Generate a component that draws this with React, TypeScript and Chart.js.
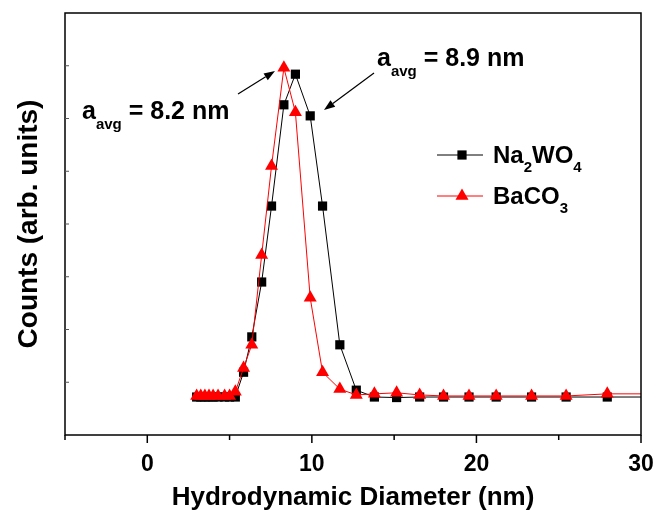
import React, { useEffect, useRef } from 'react';
import { Chart, registerables } from 'chart.js';

Chart.register(...registerables);

// Hydrodynamic diameter bins (nm)
const diameters = [3.0, 3.25, 3.5, 3.75, 4.0, 4.3, 4.7, 5.0, 5.35, 5.85, 6.35, 6.95, 7.55, 8.3, 9.0, 9.9, 10.65, 11.7, 12.7, 13.8, 15.15, 16.55, 18.0, 19.55, 21.2, 23.35, 25.45, 27.95, 30.8];
// Counts (arb. units)
const na2wo4Counts = [0.72, 0.72, 0.72, 0.72, 0.72, 0.72, 0.72, 0.72, 0.72, 1.19, 1.86, 2.9, 4.34, 6.26, 6.84, 6.05, 4.34, 1.71, 0.85, 0.72, 0.71, 0.72, 0.72, 0.72, 0.72, 0.72, 0.72, 0.72, 0.72];
const baco3Counts = [0.74, 0.74, 0.74, 0.74, 0.74, 0.74, 0.74, 0.74, 0.82, 1.27, 1.71, 3.41, 5.1, 6.96, 6.12, 2.6, 1.19, 0.87, 0.76, 0.78, 0.8, 0.76, 0.74, 0.74, 0.74, 0.74, 0.74, 0.78, 0.78];

const xTickValues = [0, 10, 20, 30];
const xMinorTickValues = [-5, 5, 15, 25];
const yTickValues = [1, 2, 3, 4, 5, 6, 7];

const FONT = '"Liberation Sans", Arial, sans-serif';

function drawSubText(ctx: CanvasRenderingContext2D, parts: { t: string; sub?: boolean }[], x: number, y: number, size: number, subSize: number, subDrop: number) {
  let cx = x;
  for (const p of parts) {
    ctx.font = `bold ${p.sub ? subSize : size}px ${FONT}`;
    ctx.fillText(p.t, cx, p.sub ? y + subDrop : y);
    cx += ctx.measureText(p.t).width;
  }
}

function arrow(ctx: CanvasRenderingContext2D, x1: number, y1: number, x2: number, y2: number) {
  const ang = Math.atan2(y2 - y1, x2 - x1);
  const L = 11, W = 4;
  ctx.strokeStyle = '#000';
  ctx.lineWidth = 1.2;
  ctx.beginPath();
  ctx.moveTo(x1, y1);
  ctx.lineTo(x2 - L * Math.cos(ang), y2 - L * Math.sin(ang));
  ctx.stroke();
  ctx.fillStyle = '#000';
  ctx.beginPath();
  ctx.moveTo(x2, y2);
  ctx.lineTo(x2 - L * Math.cos(ang) + W * Math.sin(ang), y2 - L * Math.sin(ang) - W * Math.cos(ang));
  ctx.lineTo(x2 - L * Math.cos(ang) - W * Math.sin(ang), y2 - L * Math.sin(ang) + W * Math.cos(ang));
  ctx.closePath();
  ctx.fill();
}

const decorPlugin = {
  id: 'decor',
  afterDraw(chart: any) {
    const ctx: CanvasRenderingContext2D = chart.ctx;
    const { left, right, top, bottom } = chart.chartArea;
    const xs = chart.scales.x;
    const ys = chart.scales.y;
    ctx.save();
    ctx.strokeStyle = '#000';
    ctx.lineWidth = 1.5;
    ctx.strokeRect(left, top, right - left, bottom - top);
    for (const v of xTickValues) {
      const px = xs.getPixelForValue(v);
      ctx.beginPath();
      ctx.moveTo(px, bottom);
      ctx.lineTo(px, bottom + 8);
      ctx.stroke();
    }
    for (const v of xMinorTickValues) {
      const px = xs.getPixelForValue(v);
      ctx.beginPath();
      ctx.moveTo(px, bottom);
      ctx.lineTo(px, bottom + 5);
      ctx.stroke();
    }
    ctx.lineWidth = 1;
    ctx.strokeStyle = '#555';
    for (const v of yTickValues) {
      const py = ys.getPixelForValue(v);
      ctx.beginPath();
      ctx.moveTo(left, py);
      ctx.lineTo(left + 4, py);
      ctx.stroke();
    }
    ctx.fillStyle = '#000';
    ctx.textBaseline = 'alphabetic';
    ctx.textAlign = 'left';
    drawSubText(ctx, [{ t: 'a' }, { t: 'avg', sub: true }, { t: ' = 8.2 nm' }], 82, 119, 25, 15, 10);
    drawSubText(ctx, [{ t: 'a' }, { t: 'avg', sub: true }, { t: ' = 8.9 nm' }], 377, 66, 25, 15, 10);
    arrow(ctx, 238, 94, 275, 71);
    arrow(ctx, 374, 73, 324, 110);
    ctx.strokeStyle = '#000';
    ctx.lineWidth = 1;
    ctx.beginPath();
    ctx.moveTo(437, 155);
    ctx.lineTo(483, 155);
    ctx.stroke();
    ctx.fillStyle = '#000';
    ctx.fillRect(462 - 4.6, 155 - 4.6, 9.2, 9.2);
    ctx.strokeStyle = '#ff0000';
    ctx.beginPath();
    ctx.moveTo(437, 196);
    ctx.lineTo(483, 196);
    ctx.stroke();
    ctx.fillStyle = '#ff0000';
    const r = 7.5;
    ctx.beginPath();
    ctx.moveTo(462, 196 - r);
    ctx.lineTo(462 + r * Math.sin(Math.PI / 3), 196 + r * 0.5);
    ctx.lineTo(462 - r * Math.sin(Math.PI / 3), 196 + r * 0.5);
    ctx.closePath();
    ctx.fill();
    ctx.fillStyle = '#000';
    drawSubText(ctx, [{ t: 'Na' }, { t: '2', sub: true }, { t: 'WO' }, { t: '4', sub: true }], 493, 163, 24, 15, 9);
    drawSubText(ctx, [{ t: 'BaCO' }, { t: '3', sub: true }], 493, 204, 24, 15, 9);
    ctx.restore();
  },
};

export default function App() {
  const ref = useRef<HTMLCanvasElement>(null);
  useEffect(() => {
    document.body.style.margin = '0';
    const canvas = ref.current!;
    const chart = new Chart(canvas, {
      type: 'scatter',
      data: {
        datasets: [
          {
            label: 'Na2WO4',
            data: diameters.map((d, i) => ({ x: d, y: na2wo4Counts[i] })),
            showLine: true,
            borderColor: '#000',
            borderWidth: 1,
            backgroundColor: '#000',
            pointStyle: 'rect',
            pointRadius: 6.5,
            pointBorderWidth: 0,
            order: 1,
          },
          {
            label: 'BaCO3',
            data: diameters.map((d, i) => ({ x: d, y: baco3Counts[i] })),
            showLine: true,
            borderColor: '#ff0000',
            borderWidth: 1,
            backgroundColor: '#ff0000',
            pointStyle: 'triangle',
            pointRadius: 7.5,
            pointBorderWidth: 0,
            order: 0,
          },
        ],
      },
      options: {
        responsive: false,
        animation: false,
        layout: { padding: { top: 13, right: 16, left: 0, bottom: 0 } },
        plugins: { legend: { display: false }, tooltip: { enabled: false } },
        scales: {
          x: {
            type: 'linear',
            min: -5,
            max: 30,
            grid: { display: false, drawTicks: false },
            border: { display: false },
            afterBuildTicks: (s: any) => {
              s.ticks = xTickValues.map((v) => ({ value: v }));
            },
            afterFit: (s: any) => {
              s.height = 75;
              s.paddingRight = 0;
              s.paddingLeft = 0;
            },
            ticks: {
              padding: 16,
              color: '#000',
              maxRotation: 0,
              font: { family: FONT, size: 23, weight: 'bold' },
            },
            title: {
              display: true,
              text: 'Hydrodynamic Diameter (nm)',
              color: '#000',
              padding: { top: 0, bottom: -3 },
              font: { family: FONT, size: 26, weight: 'bold' },
            },
          },
          y: {
            type: 'linear',
            min: 0,
            max: 8,
            grid: { display: false, drawTicks: false },
            border: { display: false },
            ticks: { display: false },
            afterFit: (s: any) => {
              s.width = 65;
              s.paddingTop = 0;
              s.paddingBottom = 0;
            },
            title: {
              display: true,
              text: 'Counts (arb. units)',
              color: '#000',
              padding: { top: 12, bottom: 0 },
              font: { family: FONT, size: 28, weight: 'bold' },
            },
          },
        },
      },
      plugins: [decorPlugin],
    });
    return () => chart.destroy();
  }, []);
  return (
    <div style={{ position: 'absolute', left: 0, top: 0 }}>
      <canvas ref={ref} width={657} height={510} />
    </div>
  );
}
